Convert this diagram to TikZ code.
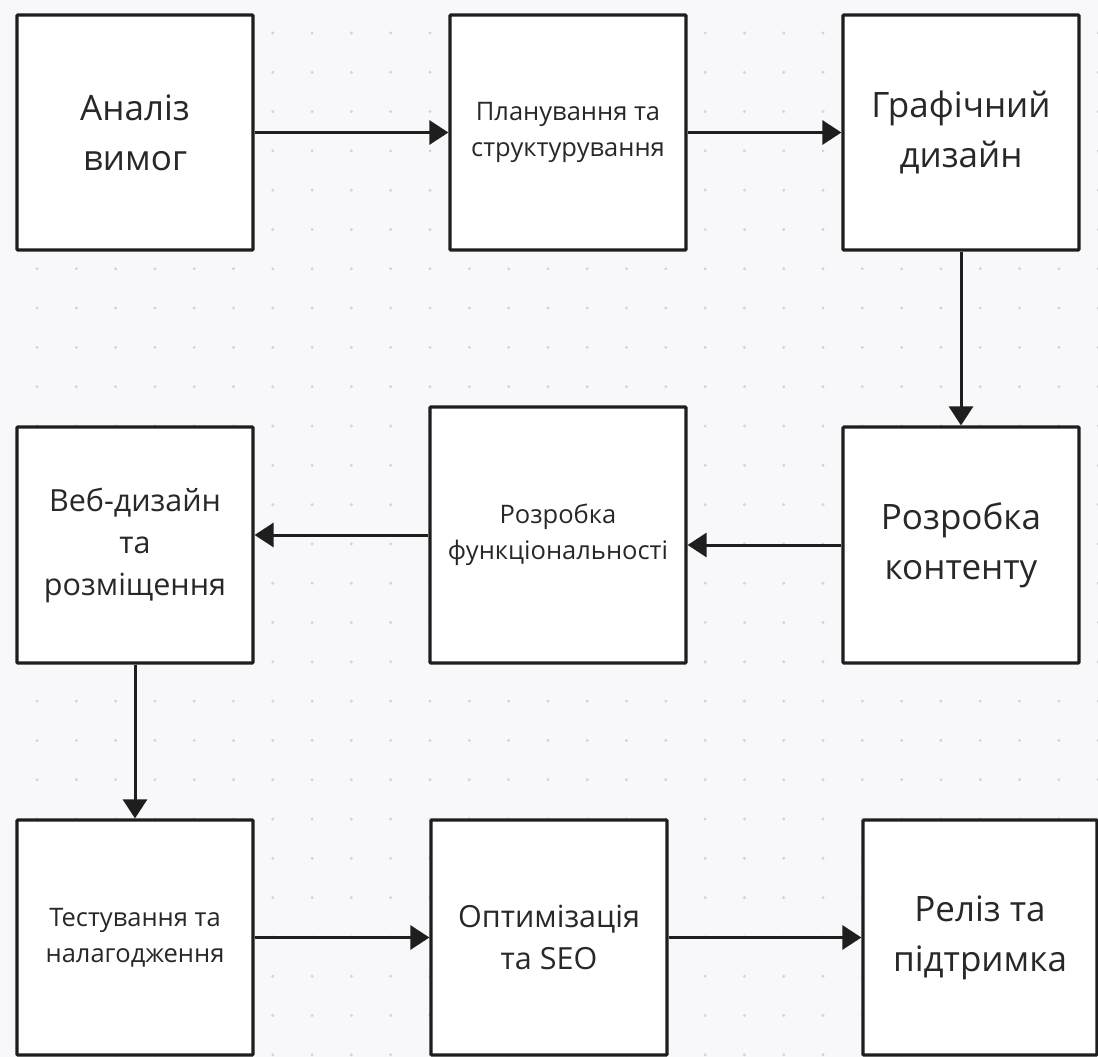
\documentclass[tikz,border=0pt]{standalone}
\usepackage{fontspec}
\setmainfont{Open Sans}
\usetikzlibrary{arrows.meta}
\definecolor{bgcol}{RGB}{248,248,250}
\definecolor{dotcol}{RGB}{210,210,216}
\definecolor{ink}{RGB}{30,30,30}
\definecolor{txt}{RGB}{40,40,40}
\tikzset{
  stepbox/.style={draw=ink, line width=3.2pt, fill=white, rounded corners=1pt, align=center, inner sep=0pt, text=txt},
  bigtxt/.style={font=\fontsize{35}{50}\selectfont},
  midtxt/.style={font=\fontsize{30.5}{42}\selectfont},
  smalltxt/.style={font=\fontsize{25.5}{36}\selectfont},
  flow/.style={draw=ink, line width=3pt, -{Triangle[length=19pt,width=24pt]}}
}
\begin{document}
\begin{tikzpicture}[x=1pt,y=-1pt]
\useasboundingbox (0,0) rectangle (1098,1057);
\fill[bgcol] (0,0) rectangle (1098,1057);
\foreach \i in {0,...,27}{
  \foreach \j in {0,...,26}{
    \fill[dotcol] ({37+39.3*\i},{33+39.3*\j}) circle (1.6pt);
  }
}
% row 1
\node[stepbox, bigtxt, minimum width=236pt, minimum height=235pt] (A) at (135,132.5) {Аналіз\\вимог};
\node[stepbox, smalltxt, minimum width=236pt, minimum height=235pt] (B) at (568,132.5) {Планування та\\структурування};
\node[stepbox, bigtxt, minimum width=236pt, minimum height=235pt] (C) at (961,132.5) {Графічний\\дизайн};
% row 2
\node[stepbox, midtxt, minimum width=236pt, minimum height=236pt] (D) at (135,545) {Веб-дизайн\\та\\розміщення};
\node[stepbox, smalltxt, minimum width=256pt, minimum height=256pt] (E) at (558,535) {Розробка\\функціональності};
\node[stepbox, bigtxt, minimum width=236pt, minimum height=236pt] (F) at (961,545) {Розробка\\контенту};
% row 3
\node[stepbox, smalltxt, minimum width=236pt, minimum height=235pt] (G) at (135,937.5) {Тестування та\\налагодження};
\node[stepbox, midtxt, minimum width=236pt, minimum height=235pt] (H) at (549,937.5) {Оптимізація\\та SEO};
\node[stepbox, bigtxt, minimum width=234pt, minimum height=235pt] (I) at (980,937.5) {Реліз та\\підтримка};
% connectors
\draw[flow] (A.east) -- (B.west);
\draw[flow] (B.east) -- (C.west);
\draw[flow] (C.south) -- (F.north);
\draw[flow] (F.west) -- (F.west -| E.east);
\draw[flow] (E.west) -- (E.west -| D.east);
\draw[flow] (D.south) -- (G.north);
\draw[flow] (G.east) -- (H.west);
\draw[flow] (H.east) -- (I.west);
\end{tikzpicture}
\end{document}
